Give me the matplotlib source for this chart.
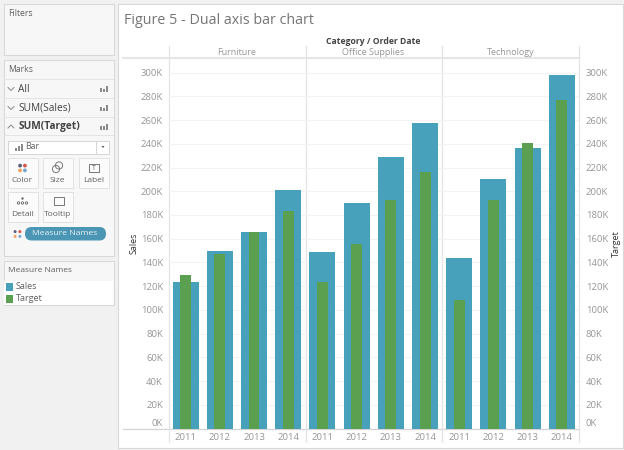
import numpy as np
import matplotlib
matplotlib.use('Agg')
import matplotlib.pyplot as plt
from matplotlib.patches import Rectangle, FancyBboxPatch, Circle

plt.rcParams['font.family'] = ['Open Sans', 'DejaVu Sans']

# Data
categories = ['Furniture', 'Office Supplies', 'Technology']
years = ['2011', '2012', '2013', '2014']
sales = [123.5, 149.6, 166, 201, 148.7, 190, 229, 257.5, 143.7, 210, 236.4, 297.6]
target = [129, 147, 165.6, 183, 123.5, 155.5, 192.6, 216, 108, 192.6, 240.6, 276.8]
yticks = list(range(0, 301, 20))
ytick_labels = [f'{v}K' for v in yticks]

SALES_C = '#48a1ba'
TARGET_C = '#5aa050'
GRAY = '#969696'
DARK = '#606060'
LINE = '#e3e3e3'

W, H = 624, 450
fig = plt.figure(figsize=(W / 100, H / 100), dpi=100, facecolor='#f1f1f1')

# overlay in pixel coordinates, for the Tableau panels around the chart
bg = fig.add_axes([0, 0, 1, 1], zorder=0)
bg.set_xlim(0, W)
bg.set_ylim(H, 0)
bg.axis('off')


def panel(x0, y0, x1, y1, fc='#f7f7f7'):
    bg.add_patch(Rectangle((x0, y0), x1 - x0, y1 - y0, fc=fc, ec='#d9d9d9', lw=0.8))


panel(3.5, 3.5, 113.5, 55)
panel(3.5, 60, 113.5, 256)
panel(3.5, 261, 113.5, 305)
panel(117.5, 3.5, 622.5, 447.5, fc='white')
bg.add_patch(Rectangle((4, 281), 109, 24, fc='white', ec='none'))

bg.text(8, 13.5, 'Filters', fontsize=6.2, color=DARK, va='center')
bg.text(8, 69.5, 'Marks', fontsize=6.2, color=DARK, va='center')
bg.text(8, 271, 'Measure Names', fontsize=6, color=DARK, va='center')

for y in [79, 98, 117, 135]:
    bg.plot([4, 113], [y, y], color='#e4e4e4', lw=0.7)

rows = [('All', 89, 'normal', 'v'), ('SUM(Sales)', 108, 'normal', 'v'), ('SUM(Target)', 126.5, 'bold', '^')]
for name, y, weight, arrow in rows:
    dy = 1.5 if arrow == 'v' else -1.5
    bg.plot([8, 11, 14], [y - dy, y + dy, y - dy], color='#888888', lw=0.7)
    bg.text(18.5, y, name, fontsize=7.3, color='#444444', weight=weight, va='center')
    for i, h in enumerate([4, 3.5, 6]):
        bg.add_patch(Rectangle((99.5 + i * 3, y + 3 - h), 2, h, fc='#8a8a8a', ec='none'))

# mark type dropdown
bg.add_patch(Rectangle((7.5, 140.5), 101, 13, fc='white', ec='#d5d5d5', lw=0.7))
bg.plot([96, 96], [141, 153], color='#d5d5d5', lw=0.7)
bg.add_patch(plt.Polygon([[101.5, 146], [104.5, 146], [103, 148]], fc='#555555', ec='none'))
for i, h in enumerate([3, 5, 7]):
    bg.add_patch(Rectangle((14.5 + i * 3, 150.5 - h), 2, h, fc='#8a8a8a', ec='none'))
bg.text(25, 146.5, 'Bar', fontsize=6.3, color=DARK, va='center')

# mark cards
cards = [(7.5, 158, 'Color'), (42.5, 158, 'Size'), (78.5, 158, 'Label'), (7.5, 191.5, 'Detail'), (42.5, 191.5, 'Tooltip')]
for x, y, name in cards:
    bg.add_patch(Rectangle((x, y), 30, 30, fc='#fbfbfb', ec='#e2e2e2', lw=0.7))
    bg.text(x + 15, y + 23, name, fontsize=6, color=DARK, ha='center', va='center')

for dx, dy, c in [(-2.4, -2.4, '#59607a'), (2.4, -2.4, '#d9534f'), (-2.4, 2.4, '#f0a35e'), (2.4, 2.4, '#7aa6cc')]:
    bg.add_patch(Circle((22.5 + dx, 168 + dy), 1.9, fc=c, ec='none'))
    bg.add_patch(Circle((17.5 + dx, 234 + dy), 1.5, fc=c, ec='none'))
bg.add_patch(Circle((56, 169), 3.6, fc='none', ec='#777777', lw=0.7))
bg.add_patch(Circle((59, 165.5), 3.6, fc='none', ec='#777777', lw=0.7))
bg.add_patch(Rectangle((88.5, 164), 10, 8, fc='none', ec='#777777', lw=0.7))
bg.text(93.5, 168, 'T', fontsize=5, color='#666666', ha='center', va='center')
for dx in [-4, 0, 4]:
    bg.add_patch(Circle((22.5 + dx, 203), 1.2, fc='none', ec='#666666', lw=0.6))
bg.add_patch(Circle((22.5, 198.5), 1.2, fc='#666666', ec='none'))
bg.add_patch(Rectangle((53.5, 197), 10, 7.5, fc='none', ec='#777777', lw=0.7))

bg.add_patch(FancyBboxPatch((25, 227), 81, 13.5, boxstyle='round,pad=0,rounding_size=6.7',
                            fc='#4b96b4', ec='none'))
bg.text(65, 233.7, 'Measure Names', fontsize=6.1, color='#e8f2f6', ha='center', va='center')

# colour legend
for y, c, name in [(286.5, SALES_C, 'Sales'), (298.5, TARGET_C, 'Target')]:
    bg.add_patch(Rectangle((5.5, y - 4), 7.5, 8, fc=c, ec='none'))
    bg.text(16, y, name, fontsize=6.5, color=DARK, va='center')

bg.text(124, 20, 'Figure 5 - Dual axis bar chart', fontsize=10.3, color='#757575', va='center')
bg.text(373, 41, 'Category / Order Date', fontsize=6.2, color='#444444', weight='bold', ha='center', va='center')

# header and frame lines
bg.plot([123, 579], [58, 58], color='#e6e6e6', lw=1.5)
bg.plot([123, 579], [428.5, 428.5], color='#d4d4d4', lw=0.9)
for x in [168.5, 305.5, 442, 579]:
    bg.plot([x, x], [46, 442], color=LINE, lw=0.9)
for x, name in zip([237, 373.5, 510.5], categories):
    bg.text(x, 52.5, name, fontsize=6.5, color=GRAY, ha='center', va='center')

# chart axes
x = np.arange(len(sales))
ax = fig.add_axes([168.5 / W, 1 - 428.5 / H, 410.5 / W, 370.5 / H], zorder=2)
ax.patch.set_alpha(0)
ax.set_xlim(-0.5, 11.5)
ax.set_ylim(0, 312.3)
ax.bar(x, sales, width=0.76, color=SALES_C, linewidth=0, zorder=3)
ax.set_yticks(yticks)
ax.set_yticklabels(ytick_labels)
ax.grid(axis='y', color='#f3f3f3', lw=0.8, zorder=0)
ax.set_axisbelow(True)
ax.set_xticks(x)
ax.set_xticklabels(years * 3)
ax.tick_params(axis='both', length=0, labelsize=6.8, labelcolor=GRAY)
ax.tick_params(axis='x', pad=3.5)
ax.tick_params(axis='y', pad=4)
ax.set_ylabel('Sales', fontsize=6.5, color='#333333')
ax.yaxis.set_label_coords(-0.073, 0.5)
ax.get_yticklabels()[0].set_verticalalignment('bottom')

ax2 = ax.twinx()
ax2.patch.set_alpha(0)
ax2.set_ylim(ax.get_ylim())
ax2.bar(x, target, width=0.32, color=TARGET_C, linewidth=0, zorder=4)
ax2.set_yticks(yticks)
ax2.set_yticklabels(ytick_labels)
ax2.tick_params(axis='y', length=0, labelsize=6.8, labelcolor=GRAY, pad=5)
ax2.set_ylabel('Target', fontsize=6.5, color='#333333')
ax2.yaxis.set_label_coords(1.079, 0.5)
ax2.get_yticklabels()[0].set_verticalalignment('bottom')

for a in (ax, ax2):
    for spine in a.spines.values():
        spine.set_visible(False)

fig.savefig('out.png', dpi=100, facecolor=fig.get_facecolor())
